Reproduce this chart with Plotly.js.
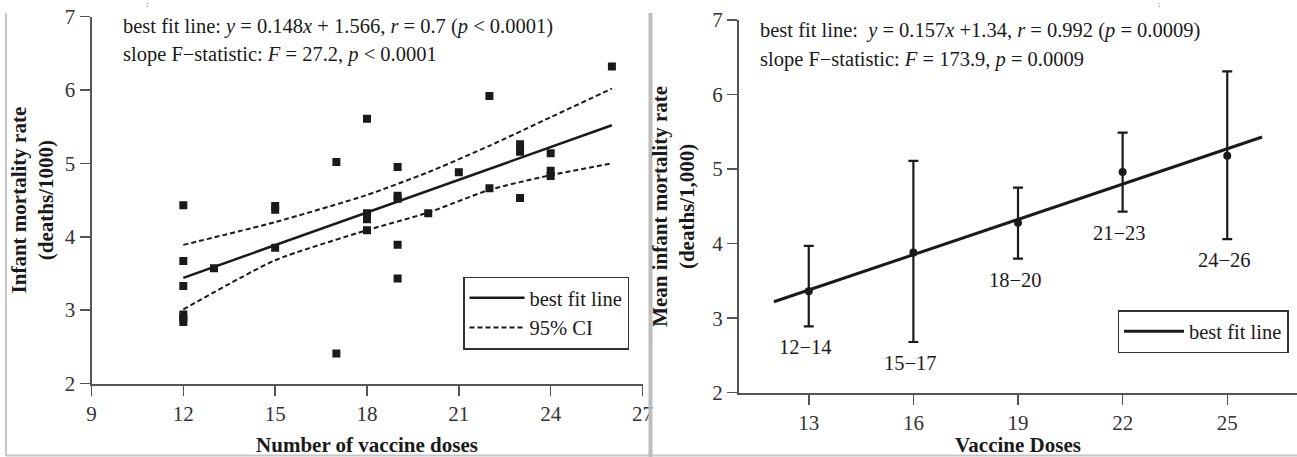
<!DOCTYPE html>
<html>
<head>
<meta charset="utf-8">
<script src="https://cdn.plot.ly/plotly-3.0.1.min.js"></script>
<style>
  html, body { margin: 0; padding: 0; background: #ffffff; }
  #chart { width: 1297px; height: 457px; }
</style>
</head>
<body>
<div id="chart"></div>
<script>
// ---------------- DATA ----------------
// Left panel: individual observations
var doseX = [12,12,12,12,12,12, 13, 15,15,15, 17,17, 18,18,18,18, 19,19,19,19,19, 20, 21, 22,22, 23,23,23, 24,24,24, 26];
var mortalityY = [4.43,3.67,3.33,2.94,2.89,2.84, 3.57, 4.42,4.37,3.85, 5.02,2.41, 5.61,4.32,4.24,4.09, 4.95,4.56,4.52,3.89,3.43, 4.32, 4.88, 5.92,4.66, 5.26,5.16,4.53, 5.14,4.90,4.83, 6.32];

// Left panel: best fit line end points and 95% confidence band
var leftFitX = [12, 26];
var leftFitY = [3.44, 5.52];
var ciX = [12, 15, 18, 20, 22, 24, 26];
var ciUpper = [3.89, 4.20, 4.57, 4.88, 5.24, 5.63, 6.02];
var ciLower = [3.01, 3.68, 4.09, 4.33, 4.64, 4.84, 5.00];

// Right panel: grouped means with error bars
var groupLabels = ['12\u221214', '15\u221217', '18\u221220', '21\u221223', '24\u221226'];
var groupX = [13, 16, 19, 22, 25];
var groupMean = [3.36, 3.88, 4.28, 4.96, 5.18];
var groupHigh = [3.97, 5.11, 4.75, 5.49, 6.31];
var groupLow  = [2.89, 2.68, 3.80, 4.43, 4.06];
var rightFitX = [12, 26];
var rightFitY = [3.22, 5.43];

// Tick labels
var leftXTicks = [9, 12, 15, 18, 21, 24, 27];
var rightXTicks = [13, 16, 19, 22, 25];
var yTicks = [2, 3, 4, 5, 6, 7];

// ---------------- LAYOUT HELPERS ----------------
var W = 1297, H = 457;
function fx(px) { return px / W; }
function fy(py) { return 1 - py / H; }
var FONT = 'Liberation Serif, Times New Roman, serif';
var INK = '#1a1a1a';
var AXIS = '#555555';

var errPlus = groupHigh.map(function (v, i) { return v - groupMean[i]; });
var errMinus = groupMean.map(function (v, i) { return v - groupLow[i]; });

var traces = [
  { x: doseX, y: mortalityY, type: 'scatter', mode: 'markers', xaxis: 'x', yaxis: 'y',
    marker: { symbol: 'square', size: 8, color: INK }, showlegend: false, hoverinfo: 'x+y' },
  { x: leftFitX, y: leftFitY, type: 'scatter', mode: 'lines', xaxis: 'x', yaxis: 'y',
    name: 'best fit line', line: { color: INK, width: 2.5 }, legend: 'legend' },
  { x: ciX, y: ciUpper, type: 'scatter', mode: 'lines', xaxis: 'x', yaxis: 'y',
    name: '95% CI', line: { color: INK, width: 2, dash: '5px,3px', shape: 'spline', smoothing: 0.6 }, legend: 'legend' },
  { x: ciX, y: ciLower, type: 'scatter', mode: 'lines', xaxis: 'x', yaxis: 'y',
    name: '95% CI lower', showlegend: false, line: { color: INK, width: 2, dash: '5px,3px', shape: 'spline', smoothing: 0.6 } },
  { x: rightFitX, y: rightFitY, type: 'scatter', mode: 'lines', xaxis: 'x2', yaxis: 'y2',
    name: 'best fit line', line: { color: INK, width: 3 }, legend: 'legend2' },
  { x: groupX, y: groupMean, type: 'scatter', mode: 'markers', xaxis: 'x2', yaxis: 'y2',
    marker: { symbol: 'circle', size: 8, color: INK }, showlegend: false,
    error_y: { type: 'data', symmetric: false, array: errPlus, arrayminus: errMinus,
               color: INK, thickness: 2.2, width: 5 } }
];

function axisCommon() {
  return {
    showline: true, linecolor: AXIS, linewidth: 2, mirror: false,
    ticks: 'outside', ticklen: 10, tickwidth: 1.5, tickcolor: AXIS,
    showgrid: false, zeroline: false, automargin: false, fixedrange: true,
    tickfont: { family: FONT, size: 21, color: '#333333' }
  };
}
var titleFont = { family: FONT, size: 21, color: INK, weight: 'bold' };

var xaxis = Object.assign(axisCommon(), {
  domain: [fx(91.5), fx(642.5)], range: [9, 27], tickmode: 'array', tickvals: leftXTicks,
  anchor: 'y',
  title: { text: 'Number of vaccine doses', standoff: 22, font: titleFont }
});
var yaxis = Object.assign(axisCommon(), {
  domain: [fy(383.5), fy(16.7)], range: [2, 7], tickmode: 'array', tickvals: yTicks,
  anchor: 'x',
  title: { text: 'Infant mortality rate<br>(deaths/1000)', standoff: 5, font: titleFont }
});
var xaxis2 = Object.assign(axisCommon(), {
  domain: [fx(739), 1], range: [11, 27], tickmode: 'array', tickvals: rightXTicks,
  anchor: 'y2',
  title: { text: 'Vaccine Doses', standoff: 21, font: titleFont }
});
var yaxis2 = Object.assign(axisCommon(), {
  domain: [fy(392.7), fy(20)], range: [2, 7], tickmode: 'array', tickvals: yTicks,
  anchor: 'x2',
  title: { text: 'Mean infant mortality rate<br>(deaths/1,000)', standoff: 12, font: titleFont }
});

var annFont = { family: FONT, size: 20.5, color: INK };
var annotations = [
  { xref: 'paper', yref: 'paper', x: fx(121), y: fy(26), xanchor: 'left', yanchor: 'middle', showarrow: false,
    text: 'best fit line: <i>y</i> = 0.148<i>x</i> + 1.566, <i>r</i> = 0.7 (<i>p</i> &lt; 0.0001)', font: annFont },
  { xref: 'paper', yref: 'paper', x: fx(121), y: fy(55), xanchor: 'left', yanchor: 'middle', showarrow: false,
    text: 'slope F\u2212statistic: <i>F</i> = 27.2, <i>p</i> &lt; 0.0001', font: annFont },
  { xref: 'paper', yref: 'paper', x: fx(758), y: fy(31), xanchor: 'left', yanchor: 'middle', showarrow: false,
    text: 'best fit line:&nbsp; <i>y</i> = 0.157<i>x</i> +1.34, <i>r</i> = 0.992 (<i>p</i> = 0.0009)', font: annFont },
  { xref: 'paper', yref: 'paper', x: fx(758), y: fy(59), xanchor: 'left', yanchor: 'middle', showarrow: false,
    text: 'slope F\u2212statistic: <i>F</i> = 173.9, <i>p</i> = 0.0009', font: annFont },
  { xref: 'paper', yref: 'paper', x: fx(145), y: fy(4), yanchor: 'middle', showarrow: false, text: ':',
    font: { family: FONT, size: 9, color: '#444' }, borderpad: 0 },
  { xref: 'paper', yref: 'paper', x: fx(1162), y: fy(4), yanchor: 'middle', showarrow: false, text: ':',
    font: { family: FONT, size: 9, color: '#444' }, borderpad: 0 }
];
groupLabels.forEach(function (lab, i) {
  annotations.push({ xref: 'x2', yref: 'y2', x: groupX[i], y: groupLow[i], yanchor: 'middle',
    yshift: -21, xshift: -3, showarrow: false, text: lab,
    font: { family: FONT, size: 20.5, color: INK } });
});

var shapes = [
  { type: 'line', xref: 'paper', yref: 'paper', x0: fx(6), x1: fx(6), y0: fy(13), y1: fy(456),
    line: { color: '#c6c6c6', width: 2 } },
  { type: 'line', xref: 'paper', yref: 'paper', x0: fx(6), x1: 1, y0: fy(455.5), y1: fy(455.5),
    line: { color: '#c6c6c6', width: 2 } },
  { type: 'line', xref: 'paper', yref: 'paper', x0: fx(650.5), x1: fx(650.5), y0: fy(13), y1: fy(457),
    line: { color: '#bdbdbd', width: 4 } }
];

var layout = {
  width: W, height: H,
  margin: { l: 0, r: 0, t: 0, b: 0, pad: 0 },
  paper_bgcolor: '#ffffff', plot_bgcolor: '#ffffff',
  font: { family: FONT, size: 20, color: INK },
  xaxis: xaxis, yaxis: yaxis, xaxis2: xaxis2, yaxis2: yaxis2,
  showlegend: true,
  legend: { x: fx(463), y: fy(276.5), xanchor: 'left', yanchor: 'top',
            bgcolor: '#ffffff', bordercolor: '#333333', borderwidth: 1.5,
            font: { family: FONT, size: 20.5, color: INK }, itemwidth: 55, tracegroupgap: 0 },
  legend2: { x: fx(1117.5), y: fy(310), xanchor: 'left', yanchor: 'top',
             bgcolor: '#ffffff', bordercolor: '#333333', borderwidth: 1.5,
             font: { family: FONT, size: 20.5, color: INK }, itemwidth: 60 },
  annotations: annotations,
  shapes: shapes
};

Plotly.newPlot('chart', traces, layout, { displayModeBar: false, staticPlot: true });
</script>
</body>
</html>
